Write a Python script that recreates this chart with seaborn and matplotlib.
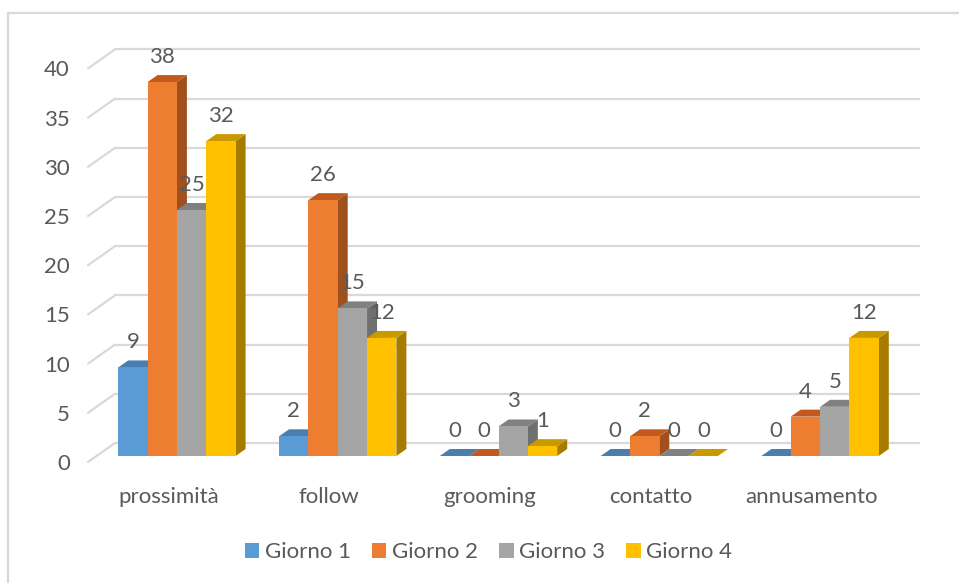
import numpy as np
import pandas as pd
import matplotlib
matplotlib.use("Agg")
import matplotlib.pyplot as plt
import matplotlib.transforms as mtransforms
from matplotlib.patches import Polygon, Patch
from matplotlib.lines import Line2D
import seaborn as sns

categorie = ["prossimità", "follow", "grooming", "contatto", "annusamento"]
giorni = ["Giorno 1", "Giorno 2", "Giorno 3", "Giorno 4"]
giorno_1 = [9, 2, 0, 0, 0]
giorno_2 = [38, 26, 0, 2, 4]
giorno_3 = [25, 15, 3, 0, 5]
giorno_4 = [32, 12, 1, 0, 12]
y_ticks = [0, 5, 10, 15, 20, 25, 30, 35, 40]

front_colors = ["#5B9BD5", "#ED7D31", "#A5A5A5", "#FFC000"]
top_colors = ["#4A7EB0", "#C25A1E", "#808080", "#C99A00"]
side_colors = ["#3F6E9A", "#A0501C", "#6F6F6F", "#A67C00"]
text_color = "#595959"
grid_color = "#D9D9D9"

serie = [giorno_1, giorno_2, giorno_3, giorno_4]
df = pd.DataFrame({
    "categoria": np.repeat([categorie], len(giorni), axis=0).ravel(),
    "giorno": np.repeat(giorni, len(categorie)),
    "valore": np.concatenate(serie),
})

sns.set_theme(style="white")
plt.rcParams["font.family"] = ["Lato", "DejaVu Sans"]
FS = 16

W, H = 959, 583
fig = plt.figure(figsize=(W / 100, H / 100), dpi=100)
ax_l, ax_r, ax_b, ax_t = 96.5, 900.5, 127.0, 520.6
ax = fig.add_axes([ax_l / W, ax_b / H, (ax_r - ax_l) / W, (ax_t - ax_b) / H])

sns.barplot(data=df, x="categoria", y="valore", hue="giorno", order=categorie,
            hue_order=giorni, palette=front_colors, saturation=1, width=0.73,
            linewidth=0, legend=False, ax=ax)

ax.set_xlim(-0.5, len(categorie) - 0.5)
ax.set_ylim(0, 40)
for s in ax.spines.values():
    s.set_visible(False)
ax.set_xlabel("")
ax.set_ylabel("")

# pixel -> data scale factors for the oblique depth offsets
sx = (ax_r - ax_l) / len(categorie)
sy = (ax_t - ax_b) / 40.0
def off(px, py):
    return px / sx, py / sy

bar_dx, bar_dy = off(10, 7)        # depth of each bar
back_dx, back_dy = off(18.5, 13)   # back wall relative to bar plane
front_dx, front_dy = off(-8.5, -6) # front edge of the floor

# back-wall gridlines with the diagonal to the front edge
x0 = -0.5
x1 = len(categorie) - 0.5
for v in y_ticks:
    ax.add_line(Line2D([x0 + back_dx, x1 + back_dx], [v + back_dy, v + back_dy],
                       color=grid_color, lw=1.6, zorder=0.5, clip_on=False))
    ax.add_line(Line2D([x0 + front_dx, x0 + back_dx], [v + front_dy, v + back_dy],
                       color=grid_color, lw=1.6, zorder=0.5, clip_on=False))

# 3D faces and value labels for each bar
for h, cont in enumerate(ax.containers):
    for j, bar in enumerate(cont.patches):
        bx0 = bar.get_x()
        bx1 = bx0 + bar.get_width()
        val = serie[h][j]
        z = 2 + h * 3
        bar.set_zorder(z + 2)
        bar.set_clip_on(False)
        side = Polygon([(bx1, 0), (bx1, val), (bx1 + bar_dx, val + bar_dy),
                        (bx1 + bar_dx, bar_dy)], closed=True, fc=side_colors[h],
                       ec="none", zorder=z, clip_on=False)
        top = Polygon([(bx0, val), (bx1, val), (bx1 + bar_dx, val + bar_dy),
                       (bx0 + bar_dx, val + bar_dy)], closed=True, fc=top_colors[h],
                      ec="none", zorder=z + 1, clip_on=False)
        ax.add_patch(side)
        ax.add_patch(top)
        ax.annotate(f"{val}", xy=((bx0 + bx1) / 2, val), xytext=(0, 25),
                    textcoords="offset pixels", ha="center", va="center",
                    fontsize=FS, color=text_color, zorder=30, annotation_clip=False)

# ticks placed on the front edge of the floor
ax.set_yticks(y_ticks)
ax.set_yticklabels([str(t) for t in y_ticks])
ax.tick_params(axis="y", length=0, pad=13, labelsize=FS, labelcolor=text_color)
ax.tick_params(axis="x", length=0, pad=18, labelsize=FS, labelcolor=text_color)
shift = mtransforms.ScaledTranslation(-8.5 / 100, -6 / 100, fig.dpi_scale_trans)
for lab in ax.get_yticklabels() + ax.get_xticklabels():
    lab.set_transform(lab.get_transform() + shift)

# chart frame (top and left edges)
fig.add_artist(Line2D([8 / W, 1], [1 - 13 / H, 1 - 13 / H], color=grid_color, lw=1.6))
fig.add_artist(Line2D([8 / W, 8 / W], [0, 1 - 13 / H], color=grid_color, lw=1.6))

handles = [Patch(facecolor=c, edgecolor="none", label=g) for c, g in zip(front_colors, giorni)]
fig.legend(handles=handles, loc="center", bbox_to_anchor=(488.5 / W, 1 - 552 / H),
           ncol=4, frameon=False, fontsize=FS, labelcolor=text_color,
           handlelength=0.65, handleheight=0.65, handletextpad=0.25, columnspacing=0.95)

fig.savefig("out.png", dpi=100)
